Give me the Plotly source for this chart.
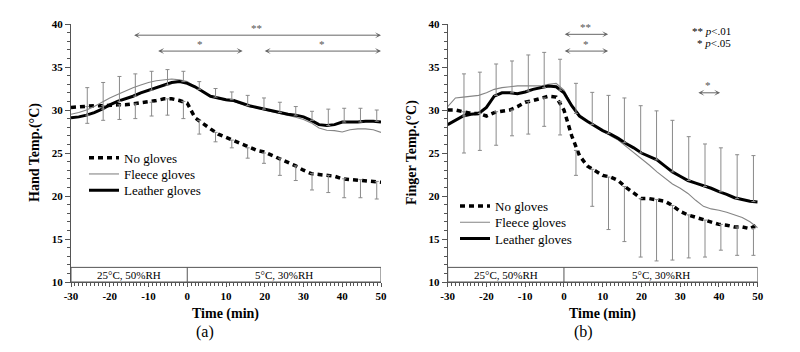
import plotly.graph_objects as go

FONT = "Liberation Serif, Times New Roman, serif"

# ---------------- data ----------------
t = list(range(-30, 51, 2))

hand_leather = [29.1, 29.2, 29.4, 29.7, 30.1, 30.6, 31.0, 31.3, 31.6, 32.0, 32.3, 32.6, 32.9, 33.2, 33.3,
                33.1, 32.7, 32.1, 31.6, 31.4, 31.2, 31.1, 30.8, 30.5, 30.3, 30.1, 29.9, 29.7, 29.5, 29.4,
                29.2, 28.8, 28.3, 28.2, 28.3, 28.6, 28.6, 28.6, 28.7, 28.7, 28.6]
hand_fleece = [29.5, 29.7, 30.0, 30.4, 30.9, 31.4, 31.8, 32.2, 32.6, 32.9, 33.2, 33.4, 33.5, 33.6, 33.5,
               33.3, 32.7, 32.1, 31.6, 31.3, 31.1, 31.0, 30.7, 30.4, 30.2, 30.0, 29.8, 29.6, 29.35, 29.15,
               28.9, 28.5, 27.9, 27.65, 27.6, 27.45, 27.7, 27.8, 27.8, 27.7, 27.4]
hand_none = [30.3, 30.4, 30.4, 30.5, 30.5, 30.6, 30.6, 30.6, 30.7, 30.8, 30.9, 31.1, 31.3, 31.3, 31.1,
             30.8, 29.1, 28.4, 27.8, 27.2, 26.8, 26.5, 26.0, 25.6, 25.3, 25.1, 24.7, 24.4, 24.0, 23.5,
             23.0, 22.6, 22.5, 22.4, 22.3, 22.0, 21.9, 21.9, 21.8, 21.7, 21.6]

finger_leather = [28.3, 28.8, 29.3, 29.5, 29.6, 30.3, 31.6, 32.0, 32.0, 31.9, 32.1, 32.4, 32.6, 32.8, 32.7,
                  32.0, 30.5, 29.3, 28.7, 28.1, 27.6, 27.2, 26.7, 26.1, 25.6, 25.0, 24.6, 24.2, 23.5, 22.8,
                  22.3, 21.8, 21.5, 21.2, 20.9, 20.5, 20.2, 19.8, 19.6, 19.4, 19.3]
finger_fleece = [30.4, 31.4, 31.5, 31.6, 31.7, 32.0, 32.4, 32.6, 32.7, 32.8, 32.8, 32.8, 32.8, 33.0, 33.1,
                 32.3, 30.6, 29.3, 28.7, 28.1, 27.5, 27.0, 26.5, 25.8, 25.1, 24.4, 23.6, 22.8, 22.1, 21.4,
                 20.9, 20.3, 19.5, 18.8, 18.5, 18.35, 18.1, 17.8, 17.5, 17.0, 16.3]
finger_none = [30.0, 30.0, 29.8, 29.6, 29.6, 29.3, 29.7, 29.9, 30.0, 30.4, 30.9, 31.1, 31.3, 31.6, 31.5,
               30.0, 27.0, 24.7, 23.5, 22.9, 22.4, 22.2, 21.8, 21.0, 20.3, 19.7, 19.7, 19.6, 19.4, 18.9,
               18.2, 17.8, 17.5, 17.2, 16.9, 16.7, 16.6, 16.4, 16.4, 16.2, 16.7]

# error bars (SD): upper bars from leather curve, lower bars from no-gloves curve
bar_t = [-25.8, -21.7, -17.5, -13.4, -9.2, -5.1, -1.0, 3.1, 7.3, 11.5, 15.6, 19.8, 23.9, 28.0, 32.2, 36.4, 40.5, 44.7, 48.9]

hand_up_base = [29.4, 30.1, 31.0, 31.6, 32.3, 32.9, 33.3, 32.4, 31.5, 31.2, 30.5, 30.1, 29.7, 29.4, 28.8, 28.2, 28.6, 28.6, 28.7]
hand_up_top = [32.6, 33.2, 33.9, 34.2, 34.5, 34.7, 34.5, 33.3, 32.5, 32.1, 31.7, 31.4, 30.9, 30.4, 29.85, 30.1, 30.2, 30.2, 30.0]
hand_dn_base = [30.4, 30.5, 30.6, 30.7, 30.9, 31.3, 31.0, 28.8, 27.4, 26.5, 25.6, 25.0, 24.4, 23.5, 22.6, 22.4, 22.0, 21.9, 21.7]
hand_dn_bot = [28.45, 28.8, 28.9, 29.0, 29.3, 29.4, 29.0, 27.2, 26.3, 25.6, 24.4, 23.8, 22.4, 21.8, 20.7, 20.4, 19.8, 19.8, 19.65]

finger_up_base = [29.3, 29.6, 31.7, 32.0, 32.2, 32.6, 32.3, 29.6, 28.3, 27.3, 26.2, 25.0, 24.2, 22.8, 21.8, 21.1, 20.5, 19.7, 19.35]
finger_up_top = [34.2, 34.4, 35.35, 35.7, 36.4, 36.7, 35.9, 33.1, 32.05, 31.7, 31.4, 30.5, 29.9, 28.8, 26.9, 26.05, 25.6, 24.8, 24.7]
finger_dn_base = [29.8, 29.6, 29.8, 30.0, 31.0, 31.4, 31.0, 25.3, 23.1, 22.2, 21.1, 19.7, 19.6, 18.9, 17.8, 17.2, 16.7, 16.4, 16.2]
finger_dn_bot = [25.0, 25.3, 25.9, 27.0, 27.2, 28.1, 27.1, 22.4, 18.8, 16.1, 14.7, 12.9, 12.45, 12.55, 12.8, 12.9, 13.7, 13.1, 13.1]

# significance ranges: (start, end, y, label)
hand_sig_x0 = [-14.1, -7.9, 19.6]
hand_sig_x1 = [50, 14.3, 50]
hand_sig_y = [38.7, 36.85, 36.85]
hand_sig_lab = ["**", "*", "*"]
finger_sig_x0 = [-0.2, -0.2, 34.3]
finger_sig_x1 = [11.4, 11.4, 40.3]
finger_sig_y = [38.8, 36.85, 32.0]
finger_sig_lab = ["**", "*", "*"]

x_tickvals = [-30, -20, -10, 0, 10, 20, 30, 40, 50]
x_ticktext = ["-30", "-20", "-10", "0", "10", "20", "30", "40", "50"]
y_tickvals = [10, 15, 20, 25, 30, 35, 40]

series_names = ["No gloves", "Fleece gloves", "Leather gloves"]
cond_labels = ["25\u00b0C, 50%RH", "5\u00b0C, 30%RH"]
cond_bounds = [-30, 0, 50]
cond_top = 11.7

# ---------------- figure ----------------
W, H = 800, 352
fig = go.Figure()

styles = [
    dict(color="black", width=3.5, dash="5px,4px"),
    dict(color="#858585", width=1.1),
    dict(color="black", width=3),
]
BARC = "#8a8a8a"

# one legend box per entry so the entries can sit as tightly as in the original
leg_ids_left = ["legend", "legend2", "legend3"]
leg_ids_right = ["legend4", "legend5", "legend6"]
leg_y_left = [157.7, 174.0, 190.3]
leg_y_right = [206.0, 222.3, 238.6]


def add_panel(xa, ya, legs, series, up_base, up_top, dn_base, dn_bot):
    for name, ys, st, lg in zip(series_names, series, styles, legs):
        fig.add_trace(go.Scatter(x=t, y=ys, mode="lines", name=name, line=st,
                                 xaxis=xa, yaxis=ya, legend=lg))
    fig.add_trace(go.Scatter(
        x=bar_t, y=up_base, mode="markers", marker=dict(size=1, color="rgba(0,0,0,0)"),
        error_y=dict(type="data", symmetric=False,
                     array=[a - b for a, b in zip(up_top, up_base)],
                     arrayminus=[0] * len(bar_t), color=BARC, thickness=1, width=2),
        xaxis=xa, yaxis=ya, showlegend=False, hoverinfo="skip"))
    fig.add_trace(go.Scatter(
        x=bar_t, y=dn_base, mode="markers", marker=dict(size=1, color="rgba(0,0,0,0)"),
        error_y=dict(type="data", symmetric=False,
                     array=[0] * len(bar_t),
                     arrayminus=[b - a for a, b in zip(dn_bot, dn_base)],
                     color=BARC, thickness=1, width=2),
        xaxis=xa, yaxis=ya, showlegend=False, hoverinfo="skip"))


add_panel("x", "y", leg_ids_left, [hand_none, hand_fleece, hand_leather],
          hand_up_base, hand_up_top, hand_dn_base, hand_dn_bot)
add_panel("x2", "y2", leg_ids_right, [finger_none, finger_fleece, finger_leather],
          finger_up_base, finger_up_top, finger_dn_base, finger_dn_bot)

AX = "#555555"
tickfont = dict(family=FONT, size=11, color="black", weight="bold")
xdom1 = [71 / W, 381 / W]
xdom2 = [447.7 / W, 757.7 / W]
ydom = [1 - 282 / H, 1 - 24 / H]


def xaxis_cfg(dom, anchor):
    return dict(domain=dom, anchor=anchor, range=[-30, 50], showline=True, linecolor=AX, linewidth=1,
                showgrid=False, zeroline=False, ticks="outside", ticklen=4, tickcolor=AX,
                tickvals=x_tickvals, ticktext=x_ticktext, tickfont=tickfont, automargin=False,
                minor=dict(dtick=1, tick0=0, ticks="outside", ticklen=3, tickcolor=AX, showgrid=False))


def yaxis_cfg(anchor):
    return dict(domain=ydom, anchor=anchor, range=[10, 40], showline=True, linecolor=AX, linewidth=1,
                showgrid=False, zeroline=False, ticks="outside", ticklen=5, tickcolor=AX,
                tickvals=y_tickvals, tickfont=tickfont, automargin=False,
                minor=dict(dtick=1, tick0=0, ticks="outside", ticklen=3, tickcolor=AX, showgrid=False))


legfont = dict(family=FONT, size=13, color="black")
layout_legends = {}
for lg, yy in zip(leg_ids_left, leg_y_left):
    layout_legends[lg] = dict(x=84 / W, y=1 - yy / H, xanchor="left", yanchor="middle",
                              bgcolor="rgba(0,0,0,0)", font=legfont, itemwidth=30)
for lg, yy in zip(leg_ids_right, leg_y_right):
    layout_legends[lg] = dict(x=455 / W, y=1 - yy / H, xanchor="left", yanchor="middle",
                              bgcolor="rgba(0,0,0,0)", font=legfont, itemwidth=30)

fig.update_layout(
    width=W, height=H, margin=dict(l=0, r=0, t=0, b=0, pad=0, autoexpand=False),
    paper_bgcolor="white", plot_bgcolor="white",
    xaxis=xaxis_cfg(xdom1, "y"), yaxis=yaxis_cfg("x"),
    xaxis2=xaxis_cfg(xdom2, "y2"), yaxis2=yaxis_cfg("x2"),
    showlegend=True,
    **layout_legends,
)

shapes = []
annots = []
for xr, yr in (("x", "y"), ("x2", "y2")):
    shapes.append(dict(type="rect", xref=xr, yref=yr, x0=cond_bounds[0], x1=cond_bounds[-1],
                       y0=10, y1=cond_top, line=dict(color=AX, width=1), fillcolor="rgba(0,0,0,0)"))
    shapes.append(dict(type="line", xref=xr, yref=yr, x0=cond_bounds[1], x1=cond_bounds[1],
                       y0=10, y1=cond_top, line=dict(color=AX, width=1)))
    for i, lab in enumerate(cond_labels):
        annots.append(dict(xref=xr, yref=yr, x=(cond_bounds[i] + cond_bounds[i + 1]) / 2,
                           y=(10 + cond_top) / 2, text=lab, showarrow=False, yanchor="middle",
                           font=dict(family=FONT, size=11, color="black")))

for xr, yr, x0s, x1s, ys, labs in (("x", "y", hand_sig_x0, hand_sig_x1, hand_sig_y, hand_sig_lab),
                                   ("x2", "y2", finger_sig_x0, finger_sig_x1, finger_sig_y, finger_sig_lab)):
    for x0, x1, yv, lab in zip(x0s, x1s, ys, labs):
        annots.append(dict(xref=xr, yref=yr, axref=xr, ayref=yr, x=x1, y=yv, ax=x0, ay=yv, text="",
                           showarrow=True, arrowside="end+start", arrowhead=3, arrowsize=1,
                           arrowwidth=1, arrowcolor="#666666", standoff=0, startstandoff=0))
        annots.append(dict(xref=xr, yref=yr, x=(x0 + x1) / 2, y=yv, yshift=7.5, yanchor="middle",
                           text=lab, showarrow=False, font=dict(family=FONT, size=11, color="#555555")))

titlefont = dict(family=FONT, size=14, color="black", weight="bold")
P = dict(xref="paper", yref="paper", showarrow=False, xanchor="center", yanchor="middle")
annots += [
    dict(P, x=35 / W, y=1 - 153 / H, text="Hand Temp.(\u00b0C)", textangle=-90, font=titlefont),
    dict(P, x=412 / W, y=1 - 153 / H, text="Finger Temp.(\u00b0C)", textangle=-90, font=titlefont),
    dict(P, x=(xdom1[0] + xdom1[1]) / 2, y=1 - 314 / H, text="Time (min)", font=titlefont),
    dict(P, x=(xdom2[0] + xdom2[1]) / 2, y=1 - 314 / H, text="Time (min)", font=titlefont),
    dict(P, x=205 / W, y=1 - 332 / H, text="(a)", font=dict(family=FONT, size=16, color="black")),
    dict(P, x=583 / W, y=1 - 332 / H, text="(b)", font=dict(family=FONT, size=16, color="black")),
    dict(P, x=733 / W, y=1 - 31 / H, xanchor="right", text="** <i>p</i>&lt;.01",
         font=dict(family=FONT, size=11, color="black")),
    dict(P, x=733 / W, y=1 - 43 / H, xanchor="right", text="* <i>p</i>&lt;.05",
         font=dict(family=FONT, size=11, color="black")),
]

fig.update_layout(shapes=shapes, annotations=annots)
fig.write_html("out.html")
